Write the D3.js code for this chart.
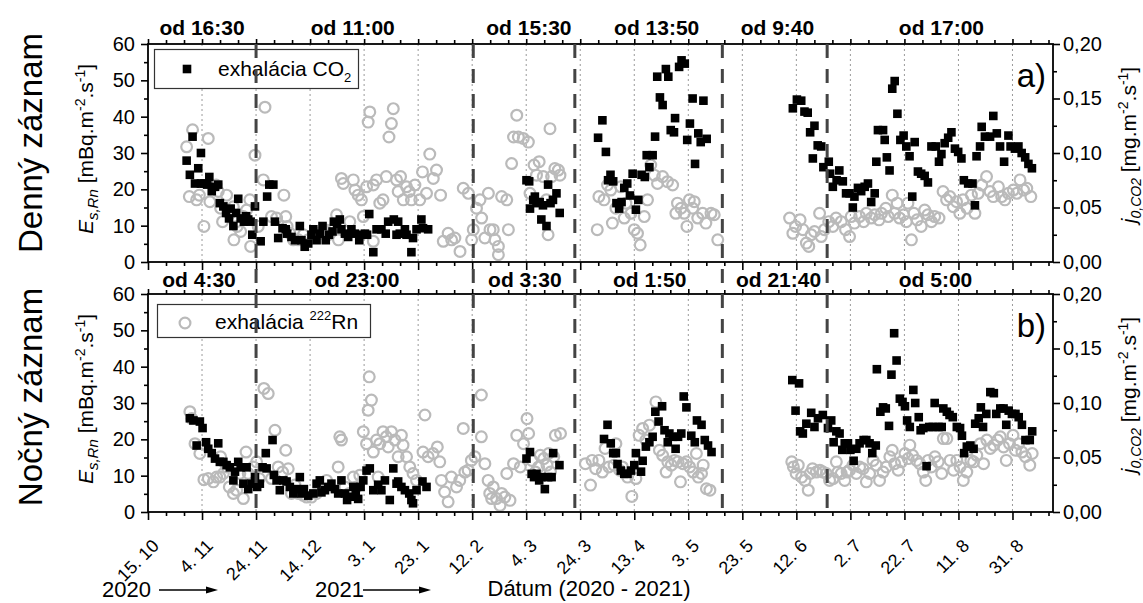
<!DOCTYPE html>
<html><head><meta charset="utf-8">
<script src="https://cdn.jsdelivr.net/npm/d3@7"></script>
<style>body{margin:0;background:#fff} svg{display:block} text{font-family:"Liberation Sans",Arial,sans-serif;fill:#000}</style>
</head><body><svg id="c" width="1143" height="603"></svg>
<script>
// ---------------- DATA ----------------
// x values are day offsets from 15.10.2020
const startDate = Date.UTC(2020, 9, 15);
const endDate = Date.UTC(2021, 8, 15);
const majorTickDays = [0,20,40,60,80,100,120,140,160,180,200,220,240,260,280,300,320];
const leftTicks = [0,10,20,30,40,50,60];
const rightTicks = [0,0.05,0.10,0.15,0.20];
const periodBreakDays = [40, 120.4, 158, 212.6, 251.4];
const dayPeriodLabels = [["od 16:30",20],["od 11:00",75.8],["od 15:30",141],["od 13:50",188.3],["od 9:40",233],["od 17:00",293.7]];
const nightPeriodLabels = [["od 4:30",18.9],["od 23:00",77.3],["od 3:30",139.5],["od 1:50",185.7],["od 21:40",233.4],["od 5:00",291.5]];

// Day record: CO2 flux j0,CO2 [mg.m-2.s-1]
const co2Day = [[14.3,.093],[15.5,.080],[16.5,.115],[17.4,.072],[18.6,.086],[19.6,.100],[19.6,.072],[20.7,.072],[21.9,.071],[22.7,.078],[23.6,.065],[24.8,.069],[26,.071],[26.6,.054],[27.9,.051],[28.9,.045],[30,.040],[30.6,.049],[31.6,.033],[32.6,.045],[33.4,.058],[34.3,.040],[35.5,.037],[36.3,.042],[37.1,.039],[38,.037],[38.6,.025],[39.6,.051],[41.7,.019],[42.7,.037],[44.1,.060],[44.9,.071],[46.4,.071],[47,.037],[48.2,.022],[49.8,.031],[51,.030],[51.5,.026],[53.1,.023],[54.4,.020],[56.2,.033],[56.8,.020],[58,.014],[59.3,.017],[60.5,.025],[61.2,.030],[62.4,.020],[63.6,.026],[64.6,.033],[65.8,.020],[67,.025],[68.3,.028],[68.8,.037],[70,.035],[71,.039],[71.6,.030],[72.9,.026],[74.1,.023],[75.3,.030],[76.6,.026],[78.2,.020],[79,.025],[80.3,.026],[81.1,.025],[81.9,.044],[83.4,.009],[84.6,.030],[86.4,.030],[88,.026],[88.9,.037],[91,.039],[92,.025],[92.6,.037],[93.2,.026],[95.1,.030],[95.7,.025],[97.5,.009],[98.1,.022],[99.4,.030],[101.2,.039],[101.8,.031],[103.7,.030],
[140.1,.075],[141.1,.074],[141.4,.049],[142.6,.057],[143.2,.060],[143.8,.054],[145,.055],[145.6,.039],[146.2,.052],[147.5,.033],[148.1,.071],[149,.054],[149.9,.057],[151.2,.063],[152.4,.045],
[166.6,.114],[168.2,.130],[169.5,.101],[170.3,.075],[171.2,.080],[172.2,.074],[173.4,.054],[174.4,.049],[175.3,.055],[176.3,.068],[177.4,.072],[178.4,.061],[179.4,.081],[180.6,.048],[181.5,.057],[182.7,.080],[183.9,.078],[184.6,.098],[185.6,.087],[186.8,.098],[187.7,.115],[188.5,.170],[189.5,.151],[190.5,.144],[191.7,.177],[192.6,.170],[193.5,.121],[194.7,.119],[195.1,.132],[196.6,.179],[197.5,.185],[198.7,.182],[199.6,.112],[200.6,.127],[201.6,.150],[202.5,.090],[203.7,.118],[204.6,.110],[205.6,.148],[206.8,.113],
[238.7,.141],[240.2,.149],[241.8,.148],[243,.138],[244.2,.137],[245.1,.119],[246.1,.095],[246.7,.125],[247.9,.107],[249.2,.106],[250,.087],[252,.092],[252.5,.081],[253.5,.069],[254.9,.075],[255.9,.084],[257.2,.074],[258.4,.063],[259.7,.063],[260.9,.050],[261.5,.060],[262.8,.068],[264,.065],[265.3,.069],[266.5,.072],[267.7,.055],[269,.063],[269.6,.092],[270.2,.121],[272.1,.121],[272.7,.112],[273.5,.096],[274.5,.084],[275.5,.159],[276.4,.166],[277.4,.136],[278.5,.112],[279.7,.116],[280.7,.106],[281.9,.097],[282.9,.060],[283.8,.110],[285,.083],[286.2,.081],[287.5,.079],[288.7,.073],[290,.106],[291.6,.106],[292.8,.092],[293.7,.099],[294.9,.109],[296.2,.114],[297.4,.119],[298.7,.104],[299.9,.101],[301.1,.095],[302,.075],[303.6,.072],[305.2,.072],[306.1,.052],[306.7,.097],[308,.106],[308.6,.124],[309.8,.115],[311.7,.115],[312.9,.134],[314.2,.118],[315.4,.106],[316.9,.092],[318.5,.116],[319.3,.106],[320.9,.104],[322.2,.106],[323.4,.100],[324.7,.096],[325.9,.090],[327.2,.086]];

// Day record: radon exhalation Es,Rn [mBq.m-2.s-1]
const radonDay = [[14.3,31.7],[15.3,18],[16.5,36.4],[18,17.1],[19,18.4],[20.7,9.8],[22.3,34],[22.9,16.6],[25.2,21.2],[26,19.4],[26.9,14.8],[27.6,11.1],[29.1,18.4],[30.3,13.4],[31.6,15.2],[31.8,6.1],[33,9.8],[34.3,8.4],[35.3,12.5],[36.5,14.3],[37.7,17.1],[38,4.3],[39.6,29.4],[40.8,9.8],[42.7,22.6],[43.3,42.6],[45.7,12.5],[47.6,12.1],[50.3,18.4],[51,12.5],[51.5,9.8],[52.5,7.9],[53.8,6.1],[55.6,6.1],[57.5,7.5],[59.3,6.1],[61.2,7.5],[63.6,7.9],[65.5,8.9],[66.8,7.5],[68,8.9],[69.8,13],[70.5,6.1],[71.6,23],[72.3,21.6],[74.7,11.1],[76,22.6],[76.6,19.8],[77.8,18.4],[79,17.1],[79.7,12.5],[80.9,20.7],[81.5,38.5],[82.1,41.3],[83.4,21.2],[83.4,5.7],[84.6,22.6],[85.8,16.2],[87,17.1],[88.2,23.5],[89.2,34.4],[90.1,38.1],[90.8,42.2],[92,22.6],
[92.6,19.4],[93.5,23.5],[94.5,17.1],[95.7,20.7],[96.7,19.4],[97.5,17.1],[98.8,21.2],[100.6,17.1],[101.6,24.8],[103.1,18.9],[104.3,29.7],[105.6,23],[106.8,25.3],[108.3,18.4],[109.3,5.7],[111.1,7.9],[112.4,6.1],[113.6,6.6],[115.5,2.9],[116.7,20.3],[118.6,18.9],[119.8,6.1],[120.4,8.9],[121.6,14.8],[122.9,17.1],[123.5,12.1],[124.7,6.6],[126,18.9],[126.6,8.9],[127.8,8.9],[128.4,6.1],[129.7,2],[129.7,4.3],[130.9,18],[132.8,17.1],[133.4,8.9],[134.6,27.1],[135.3,34.4],[136.5,40.4],[137.1,34.4],[138.9,34],[140.8,33],[141.4,18.9],[142.9,26.7],[143.8,23.9],[144.8,27.6],[146.3,23.5],[147.5,17.1],[148.1,7.5],[148.8,36.7],[149.4,23.5],[150.6,25.7],[151.9,25.3],[152.5,23.9],
[166.3,8.9],[166.9,18],[168.8,17.1],[170.1,21.2],[171.3,19.8],[171.9,10.7],[173.2,14.8],[175,20.7],[176.3,12.1],[176.9,16.2],[178.8,13.4],[180,8.9],[181.2,7.9],[182.2,4.7],[183.7,12.5],[184.9,17.1],[186.1,26.7],[187.4,23.9],[188.6,21.6],[190.5,23.5],[192.3,22.1],[194.2,21.2],[195.4,13.4],[196,16.2],[197.3,14.8],[198.5,13.4],[199.5,9.8],[200.4,17.1],[201.6,14.8],[202.2,16.6],[203.5,12.1],[205.3,13.4],[206.5,10.7],[208.4,13.4],[209.6,13],[210.9,6.1],
[237.5,12.1],[238.7,7.9],[239.7,9.8],[241.4,11.6],[242.4,8.9],[243.7,5.2],[244.6,4.3],[245.5,7.5],[246.7,8.4],[248.6,13.4],[249.2,7],[250.4,8.9],[252,11.1],[253.5,9.8],[254.7,12.1],[256.6,11.1],[258.2,8.9],[259.7,7],[260.3,12.5],[261.5,10.7],[263.4,12.5],[264.9,11.1],[265.9,13.4],[267.7,12.1],[269,13],[270.6,11.6],[271.5,13.4],[273.1,14.8],[274,12.5],[275.5,18.4],[276.4,13.4],[277.3,16.2],[278.2,12.1],[279.7,13],[280.7,11.1],[281.3,16.2],[282.6,6.1],[283.5,13.4],[284.7,11.6],[286.2,9.8],[287.5,14.3],[288.7,13],[290,11.1],[291.2,12.5],[292.8,12.1],[294.3,19.4],[295.6,17.1],[296.8,18],[298.1,15.2],[299.3,16.6],[300.5,13.4],[301.7,17.1],[303.2,14.8],[304.8,18.4],[306.1,13.4],[307.3,18.9],[308.6,21.2],[310.4,23.5],[311.7,19.4],[312.9,18],[314.8,20.7],[316,18],[317.2,17.1],[318.5,18.9],[320.3,19.8],[321.6,18.9],[322.8,22.6],[324.1,19.8],[325.3,20.3],[326.8,18]];

// Night record: CO2 flux
const co2Night = [[15.5,.086],[16.8,.084],[18,.061],[19.2,.083],[20.2,.077],[21.5,.064],[22.3,.058],[23.6,.054],[24.8,.049],[26,.063],[26.6,.046],[27.9,.046],[29.1,.043],[30.3,.041],[31.6,.029],[32.2,.037],[33.4,.046],[34.3,.041],[35.3,.026],[36.5,.041],[37.1,.021],[38.3,.026],[39.6,.032],[40.4,.023],[41.4,.026],[42.4,.041],[43.6,.054],[43.9,.040],[46.1,.066],[46.6,.034],[47.6,.029],[48.8,.020],[50.1,.029],[51.3,.028],[52.5,.023],[53.8,.017],[55,.021],[56.2,.032],[56.8,.017],[57.7,.021],[59.3,.015],[61.2,.017],[62.4,.026],[63.6,.029],[64.2,.018],[65.5,.020],[66.7,.023],[67.9,.026],[69.2,.021],[70.4,.017],[71.6,.029],[72.9,.017],[73.7,.011],[74.7,.014],[76,.023],[76.9,.017],[77.8,.012],[78.7,.023],[79.7,.029],[80.9,.038],[82.1,.040],[83.4,.020],[85.2,.025],[86.4,.020],[87.7,.029],[89.5,.011],[90.8,.040],[92,.026],[92.6,.028],[93.8,.023],[95.1,.020],[96.7,.017],[97.5,.011],[98.1,.008],[99.4,.020],[101.6,.028],[103.1,.023],
[140.1,.049],[141.4,.055],[142,.035],[142.9,.032],[143.8,.035],[144.8,.029],[145.6,.032],[146.9,.021],[148.1,.032],[149.4,.032],[150,.054],[152.3,.043],
[168.8,.067],[170.1,.080],[171.3,.063],[172.2,.054],[173.2,.054],[173.8,.044],[175,.038],[176.3,.035],[177.5,.035],[178.8,.038],[180,.043],[180.6,.054],[182.5,.037],[183.1,.047],[184.3,.060],[185.6,.064],[186.8,.069],[187.8,.092],[189,.083],[190.3,.097],[191.2,.075],[192.4,.064],[193,.072],[194.3,.069],[195.3,.058],[196.2,.069],[197.4,.072],[198.3,.106],[199.3,.096],[201.1,.070],[202.4,.064],[203.2,.084],[204.9,.080],[206.1,.066],[207.3,.061],[208.6,.055],
[238.5,.121],[239.7,.093],[241,.118],[241.4,.074],[242.4,.072],[243.7,.081],[245.5,.091],[246.7,.078],[248,.086],[249.8,.089],[251.7,.077],[252.9,.084],[253.8,.064],[254.8,.074],[256,.072],[257,.057],[257.9,.063],[259.1,.063],[260,.057],[261.2,.047],[262.2,.058],[263.4,.063],[264.9,.066],[265.9,.066],[267.1,.063],[268.1,.054],[269.4,.061],[269.8,.131],[271.1,.092],[272.1,.096],[273.1,.095],[274.3,.079],[275.2,.126],[276.2,.164],[277.1,.139],[278.3,.104],[279.3,.101],[280.2,.097],[281,.084],[282,.078],[283.3,.112],[284,.100],[285.3,.087],[286,.075],[287,.077],[288.2,.042],[289.2,.078],[290.5,.078],[291.2,.100],[292.6,.078],[293.8,.078],[294.4,.095],[295.7,.092],[296.7,.089],[297.9,.087],[299.4,.078],[300.6,.077],[301.3,.070],[302.1,.054],[303.1,.060],[304.4,.061],[305.6,.058],[306.2,.081],[307.5,.086],[308.3,.096],[309.1,.078],[310.3,.090],[311.8,.110],[313.1,.109],[314,.090],[315.5,.095],[316.7,.095],[317.7,.080],[318.6,.093],[319.8,.090],[321.1,.090],[322.3,.087],[323.5,.080],[324.8,.066],[326.4,.066],[327.3,.074]];

// Night record: radon exhalation
const radonNight = [[15.5,27.6],[16.2,25.7],[17.4,18.8],[19.2,16.1],[20.7,8.9],[22.3,9.2],[24.2,8.3],[25.4,9.6],[26.6,9.6],[26.9,15.2],[27.9,10.6],[29.1,12.4],[30.1,6.9],[31.6,5.1],[32.8,6],[34,10.6],[35.3,3.7],[36.3,16.5],[37.1,10.6],[39,12.4],[40.2,13.8],[41.2,9.2],[42.9,34],[44.5,32.6],[45.7,9.2],[47,22.5],[48.2,12.4],[49.8,11],[51,17],[51.9,11.9],[53.1,5.1],[54.4,7.4],[55.6,5.1],[57.5,4.6],[58.7,4.1],[60.5,4.1],[62.4,5.1],[63.6,6],[66.1,8.7],[70.4,12.4],[71,20.7],[71.6,19.8],[72.9,6.9],[74.5,5.1],[76,9.6],[77.2,6.9],[78.4,10.1],[79.7,22.1],[80.9,18.8],[81.5,28],[81.9,37.2],[82.7,30.8],[83.4,16.5],[84.6,19.8],[85.2,9.6],[85.8,18.8],[87,22.1],[88.2,20.7],[88.9,17.9],[90.1,22.1],[91.4,19.8],[92.6,15.2],
[93.8,21.1],[94.4,18.4],[95.7,15.2],[96.9,12.4],[98.1,10.6],[99.4,8.7],[101.8,16.5],[102.5,26.7],[103.7,15.2],[105.5,16.1],[107.1,17.9],[108,13.8],[108.6,8.7],[109.8,5.5],[111.1,2.8],[112.3,9.6],[114.2,6.9],[115.4,8.7],[116.7,23],[117.3,11],[118.5,11.5],[119.7,14.2],[121,15.2],[123.4,32.2],[123.4,20.7],[124.7,13.3],[125.9,8.7],[126.5,5.1],[127.2,3.7],[127.8,6.9],[129,3.7],[130.3,1.8],[130.9,5.1],[132.1,4.1],[132.8,10.6],[134,3.2],[135.3,13.3],[136.5,21.1],[137.8,12.4],[139,18.8],[140.3,25.7],[140.9,21.6],[142.1,14.2],[143.4,11],[144.6,12.4],[145.2,15.6],[146.5,14.7],[147.7,12.9],[148.3,16.1],[149,11],[150.2,15.2],[150.8,21.1],[152.7,21.6],
[161.9,13.3],[163.8,7.4],[164.4,14.2],[165.7,11.9],[166.9,14.2],[168.2,11],[169.2,17.5],[170.6,12.4],[172.5,12.9],[173.2,18.8],[174.6,11.5],[175.6,12.4],[177.5,9.6],[179.1,4.3],[180.6,9.2],[181.8,21.1],[183.1,23],[184.3,19.8],[185.6,23.9],[188,30.3],[189.3,17],[190.5,15.6],[191.8,11],[192.4,13.8],[193.7,12.9],[194.9,14.2],[196.2,13.8],[197.1,8.3],[198,13.3],[199.3,13.8],[200.5,12.4],[201.8,11],[203,16.1],[203.7,9.6],[204.9,10.6],[205.5,12.9],[206.7,6.4],[208,6],
[238.3,13.8],[238.9,12.4],[239.9,10.6],[240.7,12.9],[242,9.6],[243.2,8.7],[244.4,6],[245.1,10.6],[246,11.9],[247.4,11],[248.7,11.5],[249.9,11],[251.1,10.6],[252.3,8.7],[253.6,9.2],[254.8,13.8],[255.4,11],[256.6,10.6],[257.9,8.7],[258.8,11],[259.7,11.5],[261,12.9],[262.2,10.6],[263.4,12.4],[264.7,11.9],[265.9,8.3],[267.1,10.6],[268.4,14.2],[269.6,12.9],[270.8,8.7],[272.1,11],[273.3,12.4],[274.6,15.2],[275.5,17],[276.4,13.3],[277.7,11.5],[278.9,13.8],[280.2,16.1],[281.4,14.7],[282,18.4],[283,15.6],[284.5,14.2],[285.7,13.3],[287,11],[287.9,8.7],[288.8,14.2],[290,12.4],[291.3,15.2],[292.5,13.8],[293.8,10.6],[294.4,20.2],[295.7,20.2],[296.9,14.2],[298.2,11.5],[299.4,14.2],[300.6,12.4],[301.8,8.7],[303.1,11],[304.6,14.2],[305.6,13.8],[306.8,15.6],[308.1,18.8],[309.3,13.3],[310.5,19.8],[311.8,17.5],[313.1,18.4],[314.5,19.8],[315.5,20.7],[316.7,17.9],[317.7,14.2],[318.9,18.8],[320.2,21.1],[321.1,17],[322.3,18.8],[323.5,16.5],[324.8,15.2],[326.4,12.9],[327.3,16.1]];

// ---------------- DRAW ----------------
const svg = d3.select("#c");
svg.append("rect").attr("width",1143).attr("height",603).attr("fill","#fff");
const DAY = 864e5;
const toDate = d => new Date(startDate + d*DAY);
const X0 = 148, X1 = 1053;
const x = d3.scaleUtc().domain([new Date(startDate), new Date(endDate)]).range([X0, X1]);
const majorDates = majorTickDays.map(toDate);
const minorDates = d3.range(0, 336, 20/3).filter(d => Math.abs(d/20 - Math.round(d/20)) > 0.01).map(toDate);
const fmtDate = d => d.getUTCDate() + ". " + (d.getUTCMonth()+1);
const fmtRight = v => d3.format(".2f")(v).replace(".", ",");
const GRAY = "#bababa";

const panels = [
  {top: 44, bottom: 262, co2: co2Day, radon: radonDay, labels: dayPeriodLabels, tag: "a)", title: "Denný záznam", labelBase: 35},
  {top: 294, bottom: 512, co2: co2Night, radon: radonNight, labels: nightPeriodLabels, tag: "b)", title: "Nočný záznam", labelBase: 287}
];

panels.forEach((p, pi) => {
  const yL = d3.scaleLinear().domain([0, 60]).range([p.bottom, p.top]);
  const yR = d3.scaleLinear().domain([0, 0.2]).range([p.bottom, p.top]);
  const g = svg.append("g");

  // dotted grid lines at major date ticks
  g.selectAll("line.grid").data(majorDates.slice(1)).join("line")
    .attr("x1", d => x(d)).attr("x2", d => x(d))
    .attr("y1", p.top).attr("y2", p.bottom)
    .attr("stroke", "#9a9a9a").attr("stroke-width", 1).attr("stroke-dasharray", "2,3");

  // radon circles
  g.selectAll("circle.rn").data(p.radon).join("circle")
    .attr("cx", d => x(toDate(d[0]))).attr("cy", d => yL(d[1])).attr("r", 5.4)
    .attr("fill", "none").attr("stroke", GRAY).attr("stroke-width", 2.2);

  // CO2 squares
  const s = 8.6;
  g.selectAll("rect.co2").data(p.co2).join("rect")
    .attr("x", d => x(toDate(d[0])) - s/2).attr("y", d => yR(d[1]) - s/2)
    .attr("width", s).attr("height", s).attr("fill", "#000");

  // axes
  const axisStyle = sel => { sel.select(".domain").remove(); sel.selectAll("line").attr("stroke", "#000").attr("stroke-width", 1.6); sel.selectAll("text").style("font-size", "20px").attr("fill","#000"); };
  g.append("g").attr("transform", `translate(${X0},0)`)
    .call(d3.axisLeft(yL).tickValues(leftTicks).tickSize(7).tickPadding(6).tickFormat(d3.format("d"))).call(axisStyle);
  g.append("g").attr("transform", `translate(${X0},0)`)
    .call(d3.axisLeft(yL).tickValues(d3.range(5, 60, 10)).tickSize(4).tickFormat("")).call(axisStyle);
  g.append("g").attr("transform", `translate(${X1},0)`)
    .call(d3.axisRight(yR).tickValues(rightTicks).tickSize(7).tickPadding(3).tickFormat(fmtRight)).call(axisStyle);
  g.append("g").attr("transform", `translate(${X1},0)`)
    .call(d3.axisRight(yR).tickValues(d3.range(0.025, 0.2, 0.05)).tickSize(4).tickFormat("")).call(axisStyle);
  g.append("g").attr("transform", `translate(0,${p.bottom})`)
    .call(d3.axisBottom(x).tickValues(majorDates).tickSize(8).tickFormat("")).call(axisStyle);
  g.append("g").attr("transform", `translate(0,${p.bottom})`)
    .call(d3.axisBottom(x).tickValues(minorDates).tickSize(4).tickFormat("")).call(axisStyle);
  g.append("g").attr("transform", `translate(0,${p.top})`)
    .call(d3.axisTop(x).tickValues(majorDates).tickSize(5).tickFormat("")).call(axisStyle);
  g.append("g").attr("transform", `translate(0,${p.top})`)
    .call(d3.axisTop(x).tickValues(minorDates).tickSize(4).tickFormat("")).call(axisStyle);

  // frame
  g.append("rect").attr("x", X0).attr("y", p.top).attr("width", X1 - X0).attr("height", p.bottom - p.top)
    .attr("fill", "none").attr("stroke", "#000").attr("stroke-width", 1.8);

  // period labels
  g.selectAll("text.per").data(p.labels).join("text")
    .attr("x", d => x(toDate(d[1]))).attr("y", p.labelBase)
    .attr("text-anchor", "middle").style("font-size", "21px").style("font-weight", "bold")
    .text(d => d[0]);

  // panel tag
  g.append("text").attr("x", 1046).attr("y", p.top + 43).attr("text-anchor", "end")
    .style("font-size", "33px").text(p.tag);

  // left title
  g.append("text").attr("transform", `translate(42,${(p.top + p.bottom)/2 - 10 + pi*4}) rotate(-90)`)
    .attr("text-anchor", "middle").style("font-size", "33px").text(p.title);

  // left axis label
  const lt = g.append("text").attr("transform", `translate(93,${(p.top + p.bottom)/2 - 4}) rotate(-90)`)
    .attr("text-anchor", "middle").style("font-size", "21px");
  lt.append("tspan").style("font-style", "italic").text("E");
  lt.append("tspan").style("font-style", "italic").style("font-size", "15px").attr("dy", 5).text("s,Rn");
  lt.append("tspan").attr("dy", -5).text(" [mBq.m");
  lt.append("tspan").style("font-size", "14px").attr("dy", -8).text("-2");
  lt.append("tspan").attr("dy", 8).text(".s");
  lt.append("tspan").style("font-size", "14px").attr("dy", -8).text("-1");
  lt.append("tspan").attr("dy", 8).text("]");

  // right axis label
  const rt = g.append("text").attr("transform", `translate(1136,${(p.top + p.bottom)/2 - 8}) rotate(-90)`)
    .attr("text-anchor", "middle").style("font-size", "21px");
  rt.append("tspan").style("font-style", "italic").text("j");
  rt.append("tspan").style("font-style", "italic").style("font-size", "14px").attr("dy", 5).text("0,CO2");
  rt.append("tspan").attr("dy", -5).text(" [mg.m");
  rt.append("tspan").style("font-size", "14px").attr("dy", -8).text("-2");
  rt.append("tspan").attr("dy", 8).text(".s");
  rt.append("tspan").style("font-size", "14px").attr("dy", -8).text("-1");
  rt.append("tspan").attr("dy", 8).text("]");
});

// legends
const lg1 = svg.append("g");
lg1.append("rect").attr("x", 154.5).attr("y", 49.5).attr("width", 204).attr("height", 39)
  .attr("fill", "#fff").attr("stroke", "#333").attr("stroke-width", 1.2);
lg1.append("rect").attr("x", 187 - 4.3).attr("y", 69 - 4.3).attr("width", 8.6).attr("height", 8.6).attr("fill", "#000");
const l1t = lg1.append("text").attr("x", 218).attr("y", 76).style("font-size", "21px");
l1t.append("tspan").text("exhalácia CO");
l1t.append("tspan").style("font-size", "13px").attr("dy", 6).text("2");

const lg2 = svg.append("g");
lg2.append("rect").attr("x", 157.5).attr("y", 304.5).attr("width", 213).attr("height", 33)
  .attr("fill", "#fff").attr("stroke", "#333").attr("stroke-width", 1.2);
lg2.append("circle").attr("cx", 185).attr("cy", 323).attr("r", 5.4).attr("fill", "none").attr("stroke", GRAY).attr("stroke-width", 2.2);
const l2t = lg2.append("text").attr("x", 215).attr("y", 329).style("font-size", "21px");
l2t.append("tspan").text("exhalácia ");
l2t.append("tspan").style("font-size", "13px").attr("dy", -9).text("222");
l2t.append("tspan").attr("dy", 9).text("Rn");

// period break dashed lines across both panels
svg.selectAll("line.brk").data(periodBreakDays).join("line")
  .attr("x1", d => x(toDate(d))).attr("x2", d => x(toDate(d)))
  .attr("y1", 44).attr("y2", 512)
  .attr("stroke", "#444").attr("stroke-width", 3).attr("stroke-dasharray", "14,11");

// rotated date tick labels
svg.selectAll("text.dt").data(majorDates).join("text")
  .attr("transform", d => `translate(${x(d) + 12},547) rotate(-45)`)
  .attr("text-anchor", "end").style("font-size", "18px").text(fmtDate);

// x axis title & years
svg.append("text").attr("x", 589).attr("y", 596).attr("text-anchor", "middle").style("font-size", "22px").text("Dátum (2020 - 2021)");
svg.append("text").attr("x", 102).attr("y", 597).style("font-size", "22px").text("2020");
svg.append("text").attr("x", 315).attr("y", 597).style("font-size", "22px").text("2021");
const arrow = (x1, x2, y) => {
  svg.append("line").attr("x1", x1).attr("x2", x2 - 8).attr("y1", y).attr("y2", y).attr("stroke", "#000").attr("stroke-width", 1.3);
  svg.append("path").attr("d", `M${x2},${y} L${x2-12},${y-3.5} L${x2-12},${y+3.5} Z`).attr("fill", "#000");
};
arrow(159, 218, 590);
arrow(363, 431, 590);
</script></body></html>
